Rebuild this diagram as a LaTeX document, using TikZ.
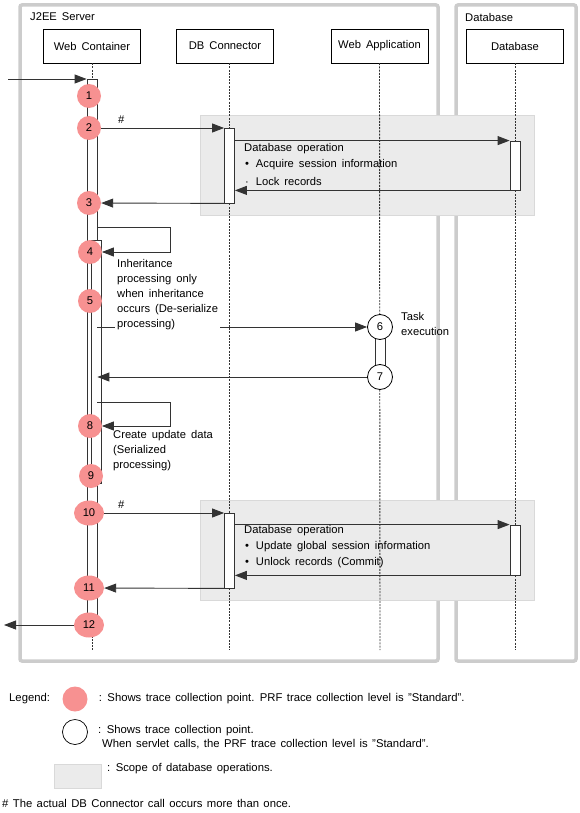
\documentclass[tikz,border=0pt]{standalone}
\usepackage{fontspec}
\setmainfont{Liberation Sans}
\usepackage{tikz}
\usetikzlibrary{arrows.meta,positioning,calc,shapes.geometric}
\definecolor{tpink}{HTML}{F79191}
\definecolor{frameg}{HTML}{CCCCCC}
\definecolor{opgray}{HTML}{EBEBEB}
\definecolor{opgrayd}{HTML}{D9D9D9}
\definecolor{lined}{HTML}{333333}
\newcommand{\dfont}{\fontsize{11.2}{15}\selectfont\spaceskip=5pt plus 1pt minus 1pt}
\newcommand{\lfont}{\fontsize{11.3}{14}\selectfont\spaceskip=4.4pt plus 1pt minus 1pt}
\tikzset{
  % swimlane frames and lifeline heads
  frame/.style  = {draw=frameg, line width=3.5pt, rounded corners=2pt},
  head/.style   = {rectangle, draw=black, fill=white, minimum width=97pt, minimum height=34pt,
                   inner sep=0pt, font=\dfont},
  life/.style   = {draw=lined, line width=0.9pt, dash pattern=on 2pt off 1.2pt},
  act/.style    = {rectangle, draw=lined, fill=white, minimum width=10pt, inner sep=0pt, line width=0.8pt},
  pinkpt/.style = {circle, fill=tpink, minimum size=24pt, inner sep=0pt, font=\dfont},
  pinkwide/.style = {ellipse, fill=tpink, minimum width=30pt, minimum height=25pt, inner sep=0pt, font=\dfont},
  whitept/.style = {circle, draw=black, fill=white, minimum size=25pt, inner sep=0pt, line width=0.8pt, font=\dfont},
  msg/.style    = {-{Triangle[length=12pt,width=9pt]}, line width=0.9pt, draw=lined},
  opbox/.style  = {draw=opgrayd, fill=opgray},
  txt/.style    = {font=\dfont, align=left, inner sep=0pt, anchor=west},
  note/.style   = {font=\dfont, align=left, inner sep=2pt, anchor=north west, fill=white},
  lbl/.style    = {font=\lfont, align=left, inner sep=0pt, anchor=west},
}

\begin{document}
\begin{tikzpicture}[x=1pt,y=-1pt]
\useasboundingbox (0,0) rectangle (580,813);
% frames
\draw[frame] (20,5) rectangle (438,661);
\draw[frame] (456,5) rectangle (576,661);
\node[txt] at (30,17) {J2EE Server};
\node[txt] at (465,17) {Database};
% heads
\node[head] (wc)  at (92,46)    {Web Container};
\node[head] (dbc) at (225,46)   {DB Connector};
\node[head] (wa)  at (379.5,46) {Web Application};
\node[head] (db)  at (515,46)   {Database};
% database operation scopes
\draw[opbox] (200,115) rectangle (534,215);
\draw[opbox] (200,500) rectangle (534,600);
% activation bars
\node[act, minimum height=553pt] (wcbar) at (92,355.5) {};
\node[act, minimum height=75pt]  (dbA)   at (229.5,165.5) {};
\node[act, minimum height=49pt]  (dbbA)  at (515,165.5) {};
\node[act, minimum height=75pt]  (dbB)   at (229.5,550.5) {};
\node[act, minimum height=50pt]  (dbbB)  at (515,550) {};
\node[act, minimum height=50pt]  (wabar) at (380,352) {};
% lifelines
\draw[life] (wc.south) -- (wcbar.north);
\draw[life] (wcbar.south) -- (wcbar |- 0,650);
\draw[life] (dbA |- dbc.south) -- (dbA.north);
\draw[life] (dbA.south) -- (dbB.north);
\draw[life] (dbB.south) -- (dbB |- 0,650);
\draw[life] (wa.south) -- (wabar |- 0,650);
\draw[life] (db.south) -- (dbbA.north);
\draw[life] (dbbA.south) -- (dbbB.north);
\draw[life] (dbbB.south) -- (dbbB |- 0,650);
\node[act, minimum height=243pt] (nest) at (96.5,361.5) {};
\node[act, minimum height=50pt] at (380,352) {};
% trace points
\node[pinkpt] (p1) at (89,96) {1};
\node[pinkpt] (p2) at (89,128) {2};
\node[pinkpt] (p3) at (89,203) {3};
\node[pinkpt] (p4) at (90,252) {4};
\node[pinkpt] (p5) at (90,301) {5};
\node[whitept] (p6) at (380,327) {6};
\node[whitept] (p7) at (380,377) {7};
\node[pinkpt] (p8) at (90,426) {8};
\node[pinkpt] (p9) at (91,476) {9};
\node[pinkwide] (p10) at (89,513) {10};
\node[pinkwide] (p11) at (89,588) {11};
\node[pinkwide] (p12) at (89,625) {12};
% messages
\coordinate (in) at (8,79);
\coordinate (out) at (4,625);
\coordinate (s4) at (170,227);
\coordinate (s8) at (170,402);
\draw[msg] (in) -- (in -| wcbar.west);
\draw[msg] (p2) -- (p2 -| dbA.west);
\node[txt] at (118,120) {\#};
\draw[msg] (dbbA.north west -| dbA.east) -- (dbbA.north west);
\draw[msg] (dbbA.south west) -- (dbbA.south west -| dbA.east);
\draw[msg] (dbA.south west) -- (p3);
\draw[msg] (wcbar.east |- s4) -- (s4) |- (nest.east |- p4);
\draw[msg] (wcbar.east |- p6) -- (p6);
\draw[msg] (p7) -- (wcbar.east |- p7);
\draw[msg] (wcbar.east |- s8) -- (s8) |- (nest.east |- p8);
\draw[msg] (p10) -- (p10 -| dbB.west);
\node[txt] at (118,505) {\#};
\draw[msg] (dbbB.north west -| dbB.east) -- (dbbB.north west);
\draw[msg] (dbbB.south west) -- (dbbB.south west -| dbB.east);
\draw[msg] (dbB.south west) -- (p11);
\draw[msg] (p12) -- (out);
% notes
\node[note] (inh) at (115,257) {Inheritance\\processing only\\when inheritance\\occurs (De-serialize\\processing)};
\node[txt, anchor=north west] (task) at (401,312) {Task\\execution};
\node[txt, anchor=north west] (upd) at (113,430) {Create update data\\(Serialized\\processing)};
\node[txt] at (244,149) {Database operation};
\node[txt] at (245,165) {•\ \,Acquire session information};
\node[txt] at (245,181) {·\ \,Lock records};
\node[txt] at (244,531) {Database operation};
\node[txt] at (245,547) {•\ \,Update global session information};
\node[txt] at (245,563) {•\ \,Unlock records (Commit)};
% legend
\node[lbl] at (9,699) {Legend:};
\node[pinkpt, minimum size=25pt] (lgpink) at (75,699) {};
\node[lbl, right=11pt of lgpink] {: Shows trace collection point. PRF trace collection level is ”Standard”.};
\node[whitept, minimum size=25pt, line width=0.7pt] (lgwhite) at (75,732) {};
\node[lbl, anchor=north west] at (98,725) {: Shows trace collection point.\\\hspace*{4pt}When servlet calls, the PRF trace collection level is ”Standard”.};
\draw[opbox] (54,764) rectangle (101,788);
\node[lbl] at (107,769) {: Scope of database operations.};
\node[lbl] at (2,803) {\# The actual DB Connector call occurs more than once.};
\end{tikzpicture}
\end{document}
